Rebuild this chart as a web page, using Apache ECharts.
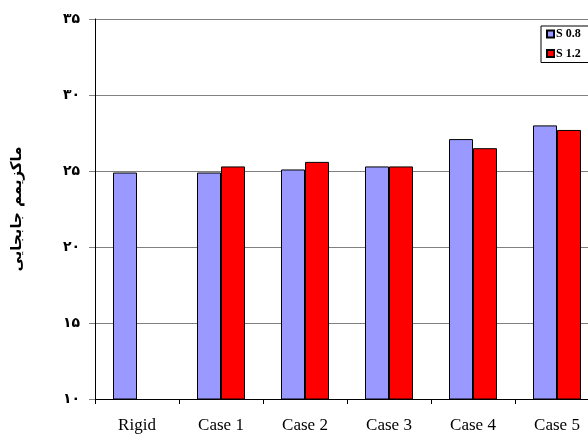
<!DOCTYPE html>
<html>
<head>
<meta charset="utf-8">
<style>
  html, body { margin: 0; padding: 0; background: #fff; overflow: hidden; }
  /* The drawing surface is a little wider than the window so the plot runs past the right edge */
  #chart { width: 610px; height: 435px; }
</style>
<script src="https://cdn.jsdelivr.net/npm/echarts@6/dist/echarts.min.js"></script>
</head>
<body>
<div id="chart"></div>
<script>
// Maximum displacement per case, for the two spacing ratios
const categories = ['Rigid', 'Case 1', 'Case 2', 'Case 3', 'Case 4', 'Case 5'];
const seriesNames = ['S 0.8', 'S 1.2'];
const s08 = [24.9, 24.9, 25.1, 25.3, 27.1, 28.0];
const s12 = [null, 25.3, 25.6, 25.3, 26.5, 27.7];

// Value-axis tick labels written with Persian digits
const yTickValues = [10, 15, 20, 25, 30, 35];
const yTickLabels = ['۱۰', '۱۵', '۲۰', '۲۵', '۳۰', '۳۵'];
const yTitle = 'ماکزیمم جابجایی';

const labelFor = v => {
  const i = yTickValues.indexOf(v);
  return i >= 0 ? yTickLabels[i] : '';
};

const chart = echarts.init(document.getElementById('chart'), null, { renderer: 'canvas' });

chart.setOption({
  animation: false,
  backgroundColor: '#ffffff',
  grid: { left: 95, top: 19, width: 504, height: 380, containLabel: false },
  legend: {
    orient: 'vertical',
    left: 541,
    top: 26,
    padding: [2, 40, 3, 5],
    itemGap: 7.5,
    itemWidth: 7,
    itemHeight: 7,
    borderColor: '#000',
    borderWidth: 1,
    backgroundColor: '#fff',
    icon: 'rect',
    data: seriesNames,
    textStyle: {
      fontFamily: 'Liberation Serif',
      fontWeight: 'bold',
      fontSize: 12,
      lineHeight: 12,
      color: '#000',
      padding: [0, 0, 0, -3]
    }
  },
  xAxis: {
    type: 'category',
    data: categories,
    axisLine: { show: true, lineStyle: { color: '#000', width: 1 } },
    axisTick: { show: true, length: 5, lineStyle: { color: '#000' } },
    axisLabel: {
      fontFamily: 'Liberation Serif',
      fontSize: 17,
      color: '#000',
      margin: 18
    },
    splitLine: { show: false }
  },
  yAxis: {
    type: 'value',
    min: 10,
    max: 35,
    interval: 5,
    name: yTitle,
    nameLocation: 'middle',
    nameRotate: 90,
    nameGap: 70,
    nameTextStyle: {
      fontFamily: 'DejaVu Sans',
      fontWeight: 'bold',
      fontSize: 15,
      color: '#000'
    },
    axisLine: { show: true, lineStyle: { color: '#000', width: 1 } },
    axisTick: { show: true, length: 6, lineStyle: { color: '#808080' } },
    axisLabel: {
      formatter: labelFor,
      fontFamily: 'DejaVu Sans',
      fontWeight: 'bold',
      fontSize: 14,
      color: '#000',
      margin: 15
    },
    splitLine: { show: true, lineStyle: { color: '#808080', width: 1 } }
  },
  series: [
    {
      name: seriesNames[0],
      type: 'bar',
      data: s08,
      barWidth: 24,
      barGap: '0%',
      itemStyle: { color: '#9999FF', borderColor: '#000', borderWidth: 1 }
    },
    {
      name: seriesNames[1],
      type: 'bar',
      data: s12,
      barWidth: 24,
      barGap: '0%',
      itemStyle: { color: '#FF0000', borderColor: '#000', borderWidth: 1 }
    }
  ]
});
</script>
</body>
</html>
